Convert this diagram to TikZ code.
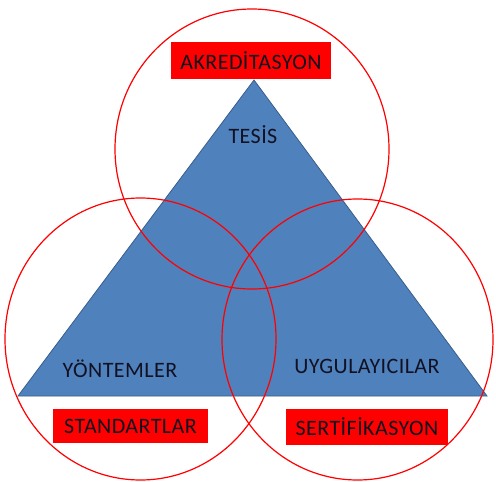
\documentclass[tikz,border=0pt]{standalone}
\usepackage{fontspec}
\setmainfont{Carlito}[LetterSpace=2]
\definecolor{triblue}{HTML}{4F81BD}
\definecolor{triedge}{HTML}{385D8A}
\definecolor{labeltext}{HTML}{111122}
\begin{document}
\begin{tikzpicture}[x=1pt, y=-1pt,
  ring/.style={draw=red, line width=1.2pt},
  redtag/.style={fill=red, draw=none, inner sep=0pt, font=\fontsize{22}{25}\selectfont, text=labeltext},
  cornertext/.style={font=\fontsize{22}{25}\selectfont, text=labeltext, inner sep=0pt}]
  \useasboundingbox (0,0) rectangle (496,482);
  % blue triangle
  \coordinate (apex) at (254,80);
  \coordinate (bl) at (18,396);
  \coordinate (br) at (487,396);
  \filldraw[fill=triblue, draw=triedge, line width=0.8pt] (apex) -- (bl) -- (br) -- cycle;
  % three overlapping rings
  \draw[ring] (252,149) ellipse [x radius=137pt, y radius=140pt];
  \draw[ring] (140.5,339) ellipse [x radius=135.5pt, y radius=141pt];
  \draw[ring] (357.5,339.5) ellipse [x radius=135.5pt, y radius=140.5pt];
  % red tags
  \node[redtag, minimum width=160pt, minimum height=37pt] (akr) at (251,60.5) {AKREDİTASYON};
  \node[redtag, minimum width=155pt, minimum height=34pt] (std) at (130.5,426) {STANDARTLAR};
  \node[redtag, minimum width=162pt, minimum height=36pt] (sert) at (367,427) {SERTİFİKASYON};
  % corner texts
  \node[cornertext] (tesis) at (253,135) {TESİS};
  \node[cornertext] (yont) at (120,369) {YÖNTEMLER};
  \node[cornertext] (uyg) at (367,366) {UYGULAYICILAR};
\end{tikzpicture}
\end{document}
